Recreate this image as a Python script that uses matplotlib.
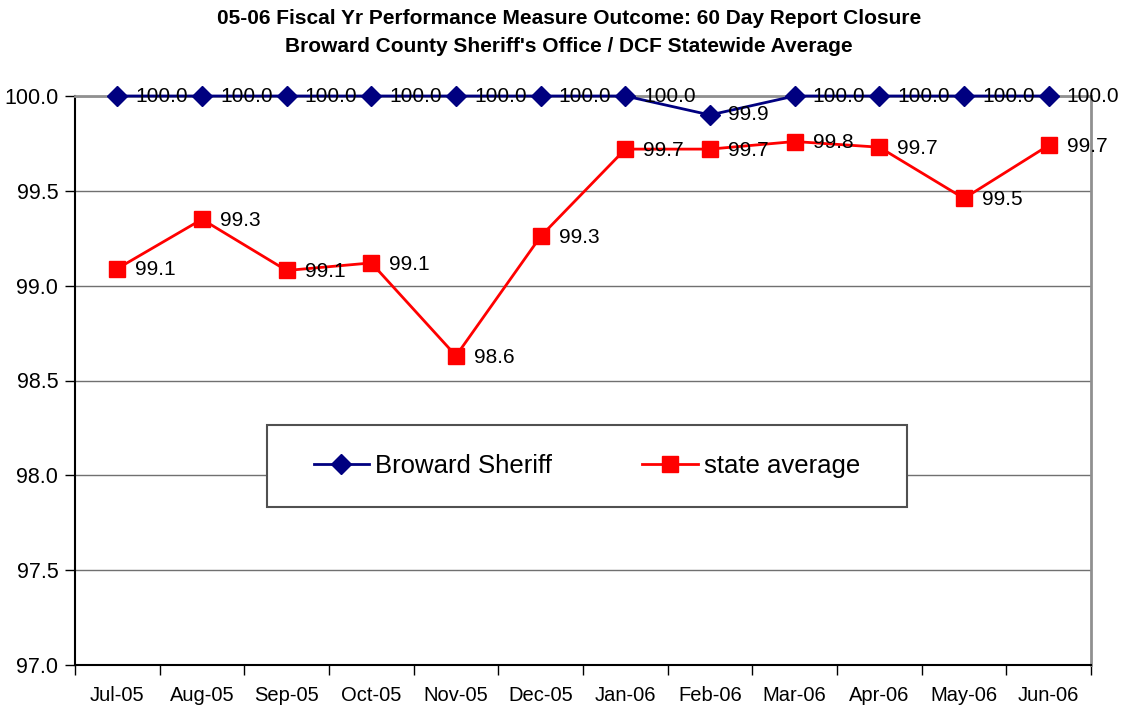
import matplotlib
matplotlib.use("Agg")
import matplotlib.pyplot as plt
import numpy as np
from matplotlib.ticker import FixedLocator
from matplotlib.patches import Rectangle

plt.rcParams['font.family'] = ['Liberation Sans', 'DejaVu Sans']

months = ["Jul-05", "Aug-05", "Sep-05", "Oct-05", "Nov-05", "Dec-05",
          "Jan-06", "Feb-06", "Mar-06", "Apr-06", "May-06", "Jun-06"]
broward = [100.0, 100.0, 100.0, 100.0, 100.0, 100.0, 100.0, 99.9, 100.0, 100.0, 100.0, 100.0]
state = [99.09, 99.35, 99.08, 99.12, 98.63, 99.26, 99.72, 99.72, 99.76, 99.73, 99.46, 99.74]
yticks = [97.0, 97.5, 98.0, 98.5, 99.0, 99.5, 100.0]

W, H = 1138, 709
fig = plt.figure(figsize=(W / 100, H / 100), dpi=100)
L, R, T, B = 75, 1091, 96, 665
ax = fig.add_axes([L / W, 1 - B / H, (R - L) / W, (B - T) / H])

x = np.arange(len(months))
for yv in yticks[1:]:
    ax.axhline(yv, color='#707070', lw=1.0, zorder=1)

ax.plot(x, broward, color='#000080', lw=2, marker='D', ms=10, mfc='#000080',
        mec='#000080', label='Broward Sheriff', zorder=4, clip_on=False)
ax.plot(x, state, color='#ff0000', lw=2, marker='s', ms=11, mfc='#ff0000',
        mec='#ff0000', label='state average', zorder=3, clip_on=False)

for xi, v in zip(x, broward):
    ax.annotate(f"{v:.1f}", (xi, v), xytext=(13, 0), textcoords='offset points',
                ha='left', va='center', fontsize=15, color='black', zorder=5,
                annotation_clip=False)
for xi, v in zip(x, state):
    ax.annotate(f"{v:.1f}", (xi, v), xytext=(13, -1), textcoords='offset points',
                ha='left', va='center', fontsize=15, color='black', zorder=5,
                annotation_clip=False)

ax.set_xlim(-0.5, len(months) - 0.5)
ax.set_ylim(97.0, 100.0)
ax.set_yticks(yticks)
ax.set_yticklabels([f"{v:.1f}" for v in yticks], fontsize=15.5)
ax.set_xticks(x)
ax.set_xticklabels(months, fontsize=14.5)
ax.xaxis.set_minor_locator(FixedLocator(np.arange(-0.5, len(months), 1.0)))
ax.tick_params(axis='x', which='major', length=0, pad=15)
ax.tick_params(axis='x', which='minor', length=7, width=1, color='black', direction='out')
ax.tick_params(axis='y', which='major', length=7, width=1, direction='out', pad=5)

ax.spines['left'].set_color('black')
ax.spines['bottom'].set_color('black')
ax.spines['left'].set_linewidth(1.5)
ax.spines['bottom'].set_linewidth(1.5)
ax.spines['top'].set_color('#909090')
ax.spines['right'].set_color('#909090')
ax.spines['top'].set_linewidth(2)
ax.spines['right'].set_linewidth(2)

# legend box
bx0, by0, bx1, by1 = 267, 425, 907, 507
ax.add_patch(Rectangle(((bx0 - L) / (R - L), (B - by1) / (B - T)),
                       (bx1 - bx0) / (R - L), (by1 - by0) / (B - T),
                       transform=ax.transAxes, facecolor='white', edgecolor='#505050',
                       lw=1.5, zorder=6))
leg = ax.legend(loc='center', bbox_to_anchor=((bx0 - L) / (R - L), (B - by1) / (B - T),
                                               (bx1 - bx0) / (R - L), (by1 - by0) / (B - T)),
                ncol=2, fontsize=18.5, frameon=False,
                columnspacing=3.5, handlelength=2.15, handletextpad=0.25,
                markerscale=1.0, borderpad=0)
leg.set_zorder(7)

fig.text(0.5, 1 - 18 / H, "05-06 Fiscal Yr Performance Measure Outcome: 60 Day Report Closure",
         ha='center', va='center', fontsize=15, fontweight='bold')
fig.text(0.5, 1 - 46 / H, "Broward County Sheriff's Office / DCF Statewide Average",
         ha='center', va='center', fontsize=15, fontweight='bold')

fig.savefig("out.png", dpi=100)
